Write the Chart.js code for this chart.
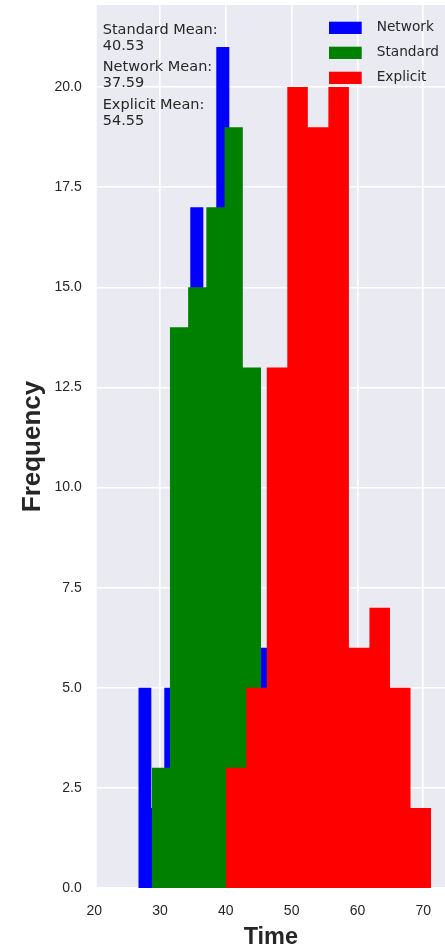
<!DOCTYPE html>
<html>
<head>
<meta charset="utf-8">
<script src="https://cdn.jsdelivr.net/npm/chart.js@4"></script>
<style>
  html, body { margin: 0; padding: 0; background: #fff; }
  canvas { display: block; }
</style>
</head>
<body>
<canvas id="histChart" width="445" height="952"></canvas>
<script>
// histogram of run times, three overlapping series
var seriesNames = ['Network', 'Standard', 'Explicit'];
var seriesColors = ['#0000ff', '#008000', '#ff0000'];
var seriesMeans = [37.59, 40.53, 54.55];

var networkEdges = [26.70, 28.68, 30.65, 32.63, 34.60, 36.58, 38.55, 40.53, 42.50, 44.48, 46.45];
var networkCounts = [5, 2, 5, 10, 17, 13, 21, 12, 7, 6];
var standardEdges = [28.74, 31.51, 34.27, 37.04, 39.81, 42.58, 45.34, 48.11, 50.88, 53.64, 56.41];
var standardCounts = [3, 14, 15, 17, 19, 13, 4, 5, 4, 5];
var explicitEdges = [39.98, 43.10, 46.22, 49.34, 52.46, 55.58, 58.70, 61.82, 64.94, 68.06, 71.18];
var explicitCounts = [3, 5, 13, 20, 19, 20, 6, 7, 5, 2];

var xTicks = [20, 30, 40, 50, 60, 70];
var yTicks = [0, 2.5, 5, 7.5, 10, 12.5, 15, 17.5, 20];
var xRange = [20.38, 73.3];
var yRange = [0, 22.05];

// the mean annotation lists Standard first
var annotationOrder = [1, 0, 2];

function histPoints(edges, counts) {
  // stepped line: each count holds from its left edge to the next one
  return edges.map(function(e, i) {
    return { x: e, y: i < counts.length ? counts[i] : 0 };
  });
}

var allEdges = [networkEdges, standardEdges, explicitEdges];
var allCounts = [networkCounts, standardCounts, explicitCounts];

var datasets = seriesNames.map(function(name, i) {
  return {
    label: name,
    data: histPoints(allEdges[i], allCounts[i]),
    stepped: 'before',
    fill: 'origin',
    backgroundColor: seriesColors[i],
    borderColor: seriesColors[i],
    borderWidth: 0,
    pointRadius: 0,
    order: 3 - i
  };
});

var textColor = '#262626';

var plotBg = {
  id: 'plotBg',
  beforeDraw: function(chart) {
    var ca = chart.chartArea, ctx = chart.ctx;
    ctx.save();
    ctx.fillStyle = '#eaeaf2';
    ctx.fillRect(ca.left, ca.top, ca.right - ca.left, ca.bottom - ca.top);
    ctx.restore();
  }
};

var boxLegend = {
  id: 'boxLegend',
  afterDraw: function(chart) {
    var ca = chart.chartArea, ctx = chart.ctx;
    ctx.save();
    ctx.font = '13.7px "DejaVu Sans"';
    ctx.textBaseline = 'middle';
    seriesNames.forEach(function(name, i) {
      var y = ca.top + 16.7 + i * 25;
      ctx.fillStyle = seriesColors[i];
      ctx.fillRect(ca.right - 116, y, 32.7, 12.3);
      ctx.fillStyle = textColor;
      ctx.fillText(name, ca.right - 68.3, y + 6.2);
    });
    ctx.restore();
  }
};

var meanText = {
  id: 'meanText',
  afterDraw: function(chart) {
    var ca = chart.chartArea, ctx = chart.ctx;
    ctx.save();
    ctx.font = '14.5px "DejaVu Sans"';
    ctx.textBaseline = 'middle';
    ctx.fillStyle = textColor;
    annotationOrder.forEach(function(si, k) {
      var y0 = ca.top + 25 + k * 37.5;
      ctx.fillText(seriesNames[si] + ' Mean:', ca.left + 6, y0);
      ctx.fillText(seriesMeans[si].toFixed(2), ca.left + 6, y0 + 16);
    });
    ctx.restore();
  }
};

function noEdgePadding(scale) {
  scale.paddingTop = 0;
  scale.paddingBottom = 0;
  scale.paddingLeft = 0;
  scale.paddingRight = 0;
}

new Chart(document.getElementById('histChart'), {
  type: 'line',
  data: { datasets: datasets },
  plugins: [plotBg, boxLegend, meanText],
  options: {
    responsive: false,
    animation: false,
    layout: { padding: { top: 5, right: 0, bottom: 0, left: 0 } },
    plugins: {
      legend: { display: false },
      tooltip: { enabled: false }
    },
    scales: {
      x: {
        type: 'linear',
        min: xRange[0],
        max: xRange[1],
        afterBuildTicks: function(scale) {
          scale.ticks = xTicks.map(function(v) { return { value: v }; });
        },
        afterFit: function(scale) { scale.height = 64; noEdgePadding(scale); },
        grid: { color: '#ffffff', lineWidth: 1.6, drawTicks: false },
        border: { display: false },
        ticks: {
          padding: 14.6,
          color: textColor,
          font: { family: 'Liberation Sans', size: 14 },
          maxRotation: 0,
          callback: function(v) { return String(v); }
        },
        title: {
          display: true,
          text: 'Time',
          color: textColor,
          font: { family: 'Liberation Sans', size: 23.5, weight: 'bold', lineHeight: 1 },
          padding: { top: 0, bottom: 3.2 }
        }
      },
      y: {
        min: yRange[0],
        max: yRange[1],
        afterBuildTicks: function(scale) {
          scale.ticks = yTicks.map(function(v) { return { value: v }; });
        },
        afterFit: function(scale) { scale.width = 96.7; noEdgePadding(scale); },
        grid: { color: '#ffffff', lineWidth: 1.5, drawTicks: false },
        border: { display: false },
        ticks: {
          padding: 15,
          color: textColor,
          font: { family: 'Liberation Sans', size: 14 },
          callback: function(v) { return v.toFixed(1); }
        },
        title: {
          display: true,
          text: 'Frequency',
          color: textColor,
          font: { family: 'Liberation Sans', size: 26, weight: 'bold', lineHeight: 1 },
          padding: { top: 19.5, bottom: 0 }
        }
      }
    }
  }
});
</script>
</body>
</html>
